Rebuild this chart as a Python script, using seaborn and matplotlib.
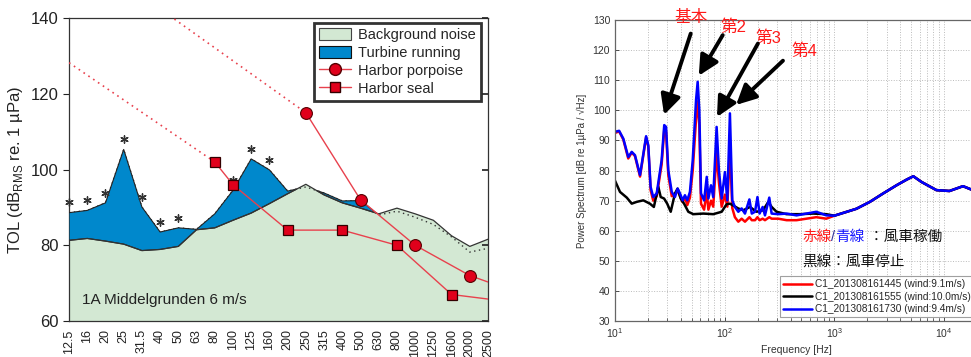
import numpy as np
import pandas as pd
import seaborn as sns
import matplotlib.pyplot as plt
from matplotlib.patches import Patch
from matplotlib.lines import Line2D

# ---- left panel: third-octave levels, Middelgrunden ----
bands = ['12.5', '16', '20', '25', '31.5', '40', '50', '63', '80', '100', '125', '160',
         '200', '250', '315', '400', '500', '630', '800', '1000', '1250', '1600', '2000', '2500']
background = [81.3, 81.8, 81.1, 80.3, 78.6, 78.9, 79.7, 84.1, 84.6, 86.6, 88.5, 91.0,
              93.6, 96.1, 93.3, 91.2, 89.8, 88.3, 89.8, 88.3, 86.6, 82.5, 79.7, 81.6]
turbine = [88.6, 89.2, 91.2, 105.3, 90.1, 83.5, 84.6, 84.2, 88.3, 94.5, 102.8, 99.9,
           94.3, 95.4, 93.8, 91.7, 91.8, 88.0, 89.0, 87.4, 85.5, 82.2, 78.2, 79.2]
signif_bands = ['12.5', '16', '20', '25', '31.5', '40', '50', '100', '125', '160']

porpoise_bands = ['250', '500', '1000', '2000']
porpoise_db = [115, 92, 80, 72]
porpoise_dot_bands = ['40', '250']
porpoise_dot_db = [142.4, 115]
porpoise_tail_bands = ['2000', '2500']
porpoise_tail_db = [72, 70.3]

seal_bands = ['80', '100', '200', '400', '800', '1600']
seal_db = [102, 96, 84, 84, 80, 67]
seal_dot_bands = ['12.5', '80']
seal_dot_db = [128.2, 102]
seal_tail_bands = ['1600', '2500']
seal_tail_db = [67, 65.8]

# ---- right panel: power spectra ----
f_run = [10, 10.9, 11.9, 13.2, 14.2, 15.2, 16.9, 19.2, 20.1, 21.1, 22.3, 24.0, 26.6, 28.1,
         29.2, 30.6, 32.9, 35.2, 37.2, 39.1, 41.4, 43.4, 45.6, 48.2, 51.1, 54.8, 56.7, 58.7,
         60.8, 64.9, 68.6, 71.0, 75.0, 78.6, 84.4, 88.6, 93.9, 100.5, 105.7, 111.6, 117.3,
         123.9, 133.1, 142.8, 153.1, 168, 176.7, 189, 199, 208, 222, 233, 255, 268, 308, 367,
         452, 556, 685, 844]
psd_blue = [92.9, 93.2, 90.6, 84.5, 86.2, 85.1, 78.5, 91.4, 88.4, 74.6, 71.2, 72.4, 83.4, 95.1,
            94.5, 80.1, 72.9, 71.2, 74.0, 72.4, 70.1, 71.8, 70.1, 72.9, 83.4, 103.4, 109.5, 100.1,
            72.4, 70.1, 77.9, 70.7, 75.1, 71.2, 94.5, 80.1, 70.7, 79.5, 70.1, 99.0, 70.1,
            67.9, 66.3, 67.4, 65.7, 70.4, 65.7, 66.3, 71.2, 65.7, 67.9, 65.1, 71.0, 65.7, 65.5, 65.7,
            65.1, 65.7, 66.3, 65.1]
psd_red = [92.5, 93.0, 90.3, 84.0, 86.0, 84.8, 78.0, 91.0, 88.0, 73.5, 70.0, 71.5, 82.0, 93.5,
           93.0, 78.5, 71.5, 72.0, 73.5, 71.5, 69.5, 71.0, 68.5, 71.0, 80.0, 97.0, 103.0, 95.0,
           69.0, 67.0, 73.0, 67.0, 70.0, 68.0, 86.0, 76.0, 68.0, 72.0, 68.0, 88.0, 67.5,
           64.5, 63.0, 64.0, 63.0, 64.5, 63.5, 63.5, 64.5, 63.5, 64.0, 63.5, 64.5, 64.0, 64.0, 63.5,
           63.5, 64.0, 64.5, 64.0]
f_stop = [10, 11.1, 12.8, 14.2, 15.8, 18.1, 20.8, 22.6, 24.8, 26.1, 28.0, 29.9, 32.2, 35.2,
          37.2, 39.7, 42.6, 46.6, 51.7, 63.8, 78.6, 93.9, 104, 111.6, 133, 147.8, 170, 195,
          224, 250, 268, 297, 367, 484, 640, 844]
psd_black = [76.6, 72.9, 71.0, 69.0, 69.6, 70.1, 69.0, 67.9, 74.6, 71.2, 70.7, 69.0, 66.3, 72.4,
             74.0, 70.7, 69.0, 66.3, 65.5, 65.7, 65.5, 66.3, 68.8, 69.0, 67.4, 66.8, 67.9, 66.3,
             66.8, 69.6, 67.9, 66.3, 65.5, 65.5, 65.7, 65.5]
f_tail = [1000, 1200, 1590, 2110, 2790, 3690, 4570, 5250, 6240, 8520, 11200, 14900, 17700, 20000]
psd_tail = [65.0, 65.9, 67.3, 69.6, 72.4, 75.1, 77.0, 78.1, 76.2, 73.5, 73.2, 74.8, 73.7, 73.5]

series_names = ['C1_201308161445 (wind:9.1m/s)', 'C1_201308161555 (wind:10.0m/s)',
                'C1_201308161730 (wind:9.4m/s)']
series_colors = ['#ff0000', '#000000', '#0000ff']

peak_labels = ['基本', '第2', '第3', '第4']
peak_text_f = [49, 119, 248, 528]
peak_text_db = [131, 127.5, 124, 119.5]
arrow_tail_f = [49, 96, 201, 340]
arrow_tail_db = [125.5, 125.0, 122.2, 116.5]
arrow_head_f = [28, 58, 85, 127]
arrow_head_db = [98.5, 111.5, 97.8, 101.8]

sns.set_theme(style='white')
plt.rcParams['font.family'] = ['Liberation Sans', 'Noto Sans CJK JP', 'DejaVu Sans']
plt.rcParams['mathtext.fontset'] = 'custom'
plt.rcParams['mathtext.rm'] = 'Liberation Sans'

fig = plt.figure(figsize=(9.71, 3.57), dpi=100)
ax1 = fig.add_axes([0.0711, 0.1008, 0.4315, 0.8487])
ax2 = fig.add_axes([0.6334, 0.1008, 0.3728, 0.843])

# ----- left panel -----
pos = {b: i for i, b in enumerate(bands)}
x = np.arange(len(bands))
bg = np.array(background)
tb = np.array(turbine)
green = '#d3e8d3'
blue = '#0088cc'
red_line = '#e8414d'
red_mark = '#e0001b'

ax1.fill_between(x, 60, bg, facecolor=green, edgecolor='none', zorder=1)
ax1.plot(x, tb, color='#333333', lw=1.0, ls=(0, (1, 2.5)), zorder=2)
ax1.fill_between(x, bg, tb, where=tb >= bg, interpolate=True, facecolor=blue,
                 edgecolor='#222222', lw=0.8, zorder=3)
ax1.plot(x, bg, color='#333333', lw=0.9, zorder=4)

star_x = [pos[b] for b in signif_bands]
star_y = [tb[pos[b]] + 2.7 for b in signif_bands]
ax1.scatter(star_x, star_y, marker=(6, 2, 0), s=28, color='#333333', linewidths=1.0,
            zorder=5, clip_on=False)

def band_df(bs, vals):
    return pd.DataFrame({'x': [pos[b] for b in bs], 'y': vals})

sns.lineplot(data=band_df(porpoise_dot_bands, porpoise_dot_db), x='x', y='y', ax=ax1,
             color=red_line, lw=1.2, ls=(0, (1, 2.5)), zorder=6)
sns.lineplot(data=band_df(seal_dot_bands, seal_dot_db), x='x', y='y', ax=ax1,
             color=red_line, lw=1.2, ls=(0, (1, 2.5)), zorder=6)
sns.lineplot(data=band_df(porpoise_tail_bands, porpoise_tail_db), x='x', y='y', ax=ax1,
             color=red_line, lw=1.0, zorder=6)
sns.lineplot(data=band_df(seal_tail_bands, seal_tail_db), x='x', y='y', ax=ax1,
             color=red_line, lw=1.0, zorder=6)
sns.lineplot(data=band_df(porpoise_bands, porpoise_db), x='x', y='y', ax=ax1,
             color=red_line, lw=1.0, marker='o', markersize=8.5, markerfacecolor=red_mark,
             markeredgecolor='#550000', markeredgewidth=0.8, zorder=7)
sns.lineplot(data=band_df(seal_bands, seal_db), x='x', y='y', ax=ax1,
             color=red_line, lw=1.0, marker='s', markersize=7.5, markerfacecolor=red_mark,
             markeredgecolor='#330000', markeredgewidth=0.9, zorder=7)

ax1.set_xlim(0, len(bands) - 1)
ax1.set_ylim(60, 140)
ax1.set_yticks([60, 80, 100, 120, 140])
ax1.set_xticks(x)
ax1.set_xticklabels(bands, rotation=90, fontsize=9, color='#222222')
ax1.tick_params(axis='y', labelsize=12, colors='#222222', direction='out', length=4, width=0.8)
ax1.tick_params(axis='x', direction='out', length=4, width=0.8, pad=2)
ax1.set_xlabel('')
ax1.set_ylabel('TOL (dB$_{\\mathregular{RMS}}$ re. 1 µPa)', fontsize=12, color='#222222', labelpad=4)
for s in ax1.spines.values():
    s.set_color('#333333')
    s.set_linewidth(0.9)
ax1r = ax1.twinx()
ax1r.set_ylim(60, 140)
ax1r.set_yticks([60, 80, 100, 120, 140])
ax1r.tick_params(axis='y', direction='in', length=4, labelright=False)
ax1r.grid(False)
for s in ax1r.spines.values():
    s.set_visible(False)

ax1.text(0.03, 0.045, '1A Middelgrunden 6 m/s', transform=ax1.transAxes, fontsize=11,
         color='#222222', va='bottom', ha='left')

handles = [Patch(facecolor=green, edgecolor='#444444', lw=0.8, label='Background noise'),
           Patch(facecolor=blue, edgecolor='#111111', lw=0.8, label='Turbine running'),
           Line2D([], [], color=red_line, lw=1.0, marker='o', markersize=8.5,
                  markerfacecolor=red_mark, markeredgecolor='#550000', label='Harbor porpoise'),
           Line2D([], [], color=red_line, lw=1.0, marker='s', markersize=7.5,
                  markerfacecolor=red_mark, markeredgecolor='#330000', label='Harbor seal')]
leg1 = ax1.legend(handles=handles, loc='upper right', bbox_to_anchor=(0.983, 0.983),
                  fontsize=10.5, frameon=True, fancybox=False, borderpad=0.35,
                  handlelength=2.2, handleheight=0.9, labelspacing=0.25, handletextpad=0.5,
                  borderaxespad=0)
leg1.get_frame().set_edgecolor('black')
leg1.get_frame().set_linewidth(2.0)
leg1.set_zorder(10)

# ----- right panel -----
runs = [(f_run + f_tail, psd_red + psd_tail),
        (f_stop + f_tail, psd_black + psd_tail),
        (f_run + f_tail, psd_blue + psd_tail)]
for (fs, vals), name, col in zip(runs, series_names, series_colors):
    df = pd.DataFrame({'freq': fs, 'psd': vals})
    sns.lineplot(data=df, x='freq', y='psd', ax=ax2, color=col, lw=1.8, label=name,
                 estimator=None)
ax2.set_xscale('log')
ax2.set_xlim(10, 20000)
ax2.set_ylim(30, 130)
ax2.set_yticks(np.arange(30, 131, 10))
ax2.grid(True, which='major', axis='both', color='#bbbbbb', ls=':', lw=0.7)
ax2.grid(True, which='minor', axis='x', color='#bbbbbb', ls=':', lw=0.7)
ax2.tick_params(axis='both', which='major', labelsize=7.5, colors='#333333', direction='in',
                length=3, width=0.6)
ax2.tick_params(axis='x', which='minor', direction='in', length=2, width=0.5, bottom=True)
ax2.tick_params(axis='x', which='major', bottom=True, pad=4)
ax2.tick_params(axis='y', which='major', left=True)
ax2.set_xlabel('Frequency [Hz]', fontsize=7.5, color='#333333', labelpad=3)
ax2.set_ylabel('Power Spectrum [dB re 1µPa / √Hz]', fontsize=7, color='#333333', labelpad=4)
for s in ax2.spines.values():
    s.set_color('#666666')
    s.set_linewidth(0.9)

leg2 = ax2.legend(loc='lower right', bbox_to_anchor=(0.99, 0.012), fontsize=7.3, frameon=True,
                  fancybox=False, borderpad=0.3, handlelength=2.8, labelspacing=0.25,
                  handletextpad=0.3, borderaxespad=0)
leg2.get_frame().set_edgecolor('#888888')
leg2.get_frame().set_linewidth(0.8)

for lab, tf, tdb, af, adb, hf, hdb in zip(peak_labels, peak_text_f, peak_text_db,
                                          arrow_tail_f, arrow_tail_db, arrow_head_f, arrow_head_db):
    ax2.text(tf, tdb, lab, color='#ff1a1a', fontsize=12, ha='center', va='center', clip_on=False)
    ax2.annotate('', xy=(hf, hdb), xytext=(af, adb), annotation_clip=False,
                 arrowprops=dict(arrowstyle='-|>,head_length=0.6,head_width=0.3', lw=2.8,
                                 color='black', mutation_scale=20, shrinkA=0, shrinkB=0))

t = ax2.text(0.517, 0.279, '赤線', color='#ff1a1a', fontsize=10.5, transform=ax2.transAxes,
             va='center', ha='left')
t = ax2.annotate('/', xy=(1, 0), xycoords=t, va='bottom', ha='left', color='#333399', fontsize=10.5)
t = ax2.annotate('青線', xy=(1, 0), xycoords=t, va='bottom', ha='left', color='#1a1aff', fontsize=10.5)
ax2.annotate(' ：風車稼働', xy=(1, 0), xycoords=t, va='bottom', ha='left', color='#111111',
             fontsize=10.5)
ax2.text(0.517, 0.196, '黒線：風車停止', color='#111111', fontsize=10.5, transform=ax2.transAxes,
         va='center', ha='left')

fig.savefig('out.png', dpi=100)
